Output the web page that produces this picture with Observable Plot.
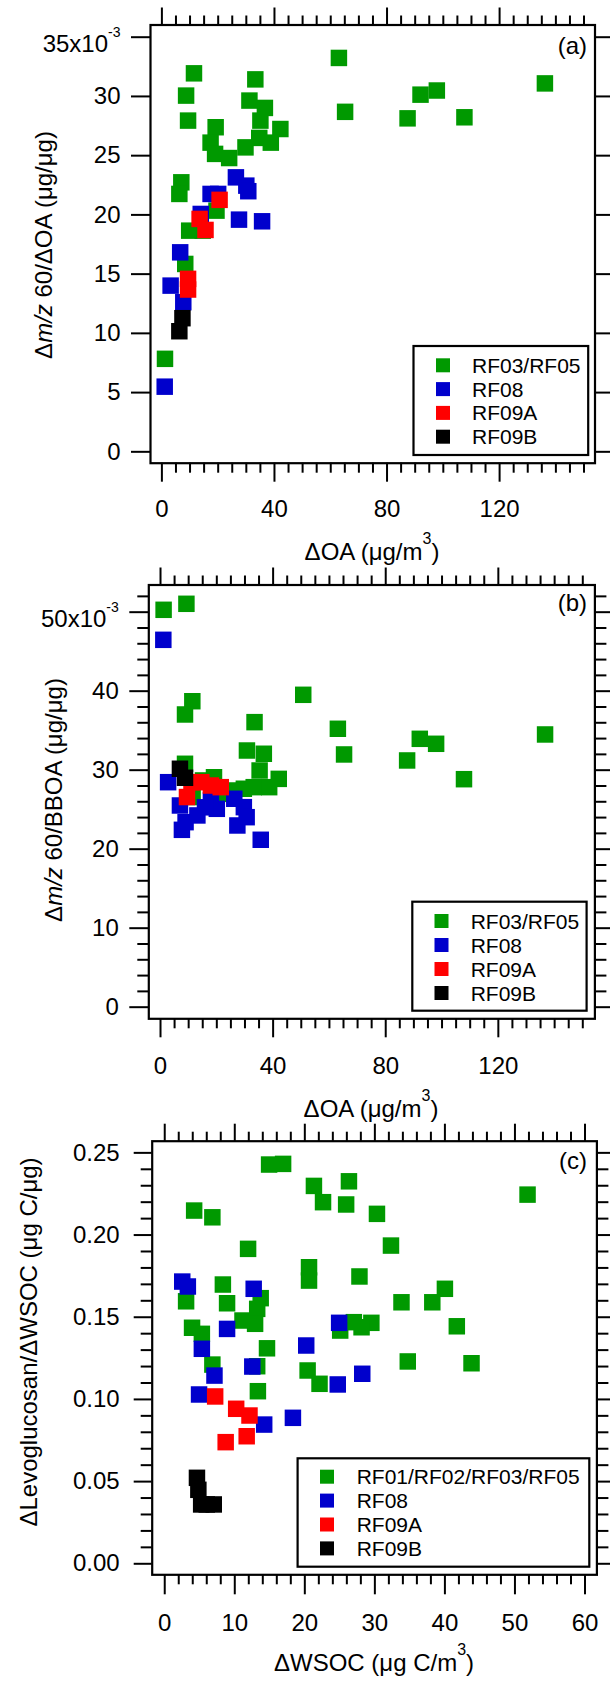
<!DOCTYPE html>
<html>
<head>
<meta charset="utf-8">
<script src="https://cdn.jsdelivr.net/npm/d3@7"></script>
<script src="https://cdn.jsdelivr.net/npm/@observablehq/plot@0.6"></script>
<style>
  body { margin: 0; background: #fff; }
  #page { position: relative; width: 610px; height: 1684px; overflow: hidden; background: #fff; }
</style>
</head>
<body>
<div id="page"></div>
<script>
// ---------------- DATA ----------------
// Panel (a): x = ΔOA (µg/m3), y = Δm/z60/ΔOA (×10^-3 µg/µg)
const aGreenX = [62.9, 11.4, 33.2, 136.1, 8.6, 97.7, 91.9, 31.1, 36.6, 65.1, 87.3, 107.5, 9.3, 35.0, 19.1, 42.1, 17.3, 38.7, 34.6, 29.7, 18.9, 23.9, 6.9, 6.2, 19.4, 9.7, 14.5, 8.3, 1.1];
const aGreenY = [33.25, 31.95, 31.44, 31.1, 30.07, 30.5, 30.15, 29.65, 29.03, 28.7, 28.15, 28.24, 27.96, 27.96, 27.4, 27.25, 26.1, 26.1, 26.5, 25.7, 25.15, 24.8, 22.75, 21.77, 20.36, 18.67, 18.67, 15.86, 7.85];
const aBlueX = [26.3, 30.0, 30.7, 17.3, 20.0, 13.8, 27.4, 35.6, 6.5, 3.1, 7.6, 1.0];
const aBlueY = [23.17, 22.47, 22.0, 21.77, 21.77, 20.08, 19.6, 19.46, 16.84, 14.03, 12.63, 5.5];
const aRedX = [20.5, 13.4, 15.5, 9.3, 9.3];
const aRedY = [21.27, 19.66, 18.73, 14.6, 13.7];
const aBlackX = [7.3, 6.2];
const aBlackY = [11.28, 10.18];

// Panel (b): x = ΔOA (µg/m3), y = Δm/z60/BBOA (×10^-3 µg/µg)
const bGreenX = [1.1, 9.2, 11.3, 8.7, 50.7, 33.4, 63.0, 65.2, 92.1, 97.9, 136.6, 87.6, 107.8, 30.7, 36.7, 35.2, 42.0, 38.6, 33.1, 29.6, 24.8, 19.0, 15.1, 8.7, 11.4, 22.1];
const bGreenY = [50.3, 51.06, 38.73, 37.05, 39.54, 36.08, 35.24, 31.99, 33.97, 33.34, 34.52, 31.23, 28.86, 32.49, 32.08, 29.96, 28.9, 27.85, 27.85, 27.65, 27.43, 29.11, 28.7, 30.81, 26.6, 27.0];
const bBlueX = [1.0, 2.7, 6.9, 7.6, 8.9, 13.1, 17.9, 20.0, 26.2, 29.6, 30.6, 27.3, 35.6, 15.8];
const bBlueY = [46.5, 28.48, 25.53, 22.45, 23.42, 24.27, 26.16, 25.11, 26.38, 25.32, 24.05, 23.0, 21.19, 25.3];
const bRedX = [9.4, 11.0, 14.5, 17.9, 21.4];
const bRedY = [26.6, 28.48, 28.48, 28.06, 27.85];
const bBlackX = [6.9, 8.7];
const bBlackY = [30.18, 29.04];

// Panel (c): x = ΔWSOC (µg C/m3), y = ΔLevoglucosan/ΔWSOC (µg C/µg)
const cGreenX = [14.9, 16.9, 26.3, 21.3, 22.6, 25.9, 51.8, 4.2, 6.8, 30.3, 32.3, 11.9, 20.6, 20.6, 27.8, 8.3, 40.0, 13.7, 33.8, 38.2, 3.05, 8.9, 13.2, 11.1, 12.9, 3.9, 5.3, 27.0, 29.5, 25.05, 28.1, 41.7, 14.6, 6.8, 13.2, 20.4, 34.7, 43.8, 22.1, 13.3];
const cGreenY = [0.2429, 0.2433, 0.2327, 0.2299, 0.2200, 0.2186, 0.2246, 0.2149, 0.2108, 0.2129, 0.1936, 0.1916, 0.1804, 0.1723, 0.1748, 0.1699, 0.1673, 0.1616, 0.1591, 0.1591, 0.1597, 0.1585, 0.1551, 0.1480, 0.1460, 0.1436, 0.1399, 0.1470, 0.1466, 0.1419, 0.1439, 0.1445, 0.1311, 0.1212, 0.1202, 0.1176, 0.1231, 0.1220, 0.1095, 0.1050];
const cBlueX = [2.5, 3.3, 12.7, 8.9, 24.9, 5.3, 20.2, 12.5, 7.1, 28.2, 24.7, 4.9, 14.2, 18.3];
const cBlueY = [0.1717, 0.1687, 0.1673, 0.1429, 0.1466, 0.1308, 0.1328, 0.1200, 0.1145, 0.1156, 0.1091, 0.1030, 0.0847, 0.0888];
const cRedX = [7.2, 10.2, 12.1, 11.7, 8.7];
const cRedY = [0.1018, 0.0943, 0.0902, 0.0776, 0.0740];
const cBlackX = [4.6, 4.8, 5.2, 6.0, 7.0];
const cBlackY = [0.0523, 0.0450, 0.0361, 0.0361, 0.0361];

// Legends / labels
const legendAB = ["RF03/RF05", "RF08", "RF09A", "RF09B"];
const legendC = ["RF01/RF02/RF03/RF05", "RF08", "RF09A", "RF09B"];
const seriesColors = ["#009900", "#0000CC", "#FF0000", "#000000"];

// Ticks
const xTicksAB = [0, 40, 80, 120];
const xMinorAB = d3.range(0, 151, 5).filter(v => v % 40 !== 0);
const yTicksA = [0, 5, 10, 15, 20, 25, 30, 35];
const yTicksB = [0, 10, 20, 30, 40, 50];
const yMinorB = d3.range(0, 53, 2).filter(v => v % 10 !== 0);
const xTicksC = [0, 10, 20, 30, 40, 50, 60];
const xMinorC = d3.range(0, 61, 2).filter(v => v % 10 !== 0);
const yTicksC = [0, 0.05, 0.10, 0.15, 0.20, 0.25];
const yMinorC = d3.range(0, 26).filter(v => v % 5 !== 0).map(v => v / 100);

// ---------------- DRAWING ----------------
const FONT = '"Liberation Sans", Arial, Helvetica, sans-serif';
const ns = "http://www.w3.org/2000/svg";
const pts = (xs, ys) => xs.map((x, i) => ({x, y: ys[i]}));
const page = document.getElementById("page");
const blank = () => "";

function panel(cfg) {
  const marks = [
    Plot.frame({stroke: "#000", strokeWidth: 2.2}),
    Plot.axisX(cfg.xTicks, {anchor: "bottom", tickSize: cfg.xTickLen, tickPadding: cfg.xPad, tickFormat: cfg.xFormat, fontSize: 24, strokeWidth: 2, label: null}),
    Plot.axisX(cfg.xMinor, {anchor: "bottom", tickSize: 10, tickFormat: blank, strokeWidth: 2, label: null}),
    Plot.axisX(cfg.xTicks, {anchor: "top", tickSize: 18, tickFormat: blank, strokeWidth: 2, label: null}),
    Plot.axisX(cfg.xMinor, {anchor: "top", tickSize: 10, tickFormat: blank, strokeWidth: 2, label: null}),
    Plot.axisY(cfg.yTicks, {anchor: "left", tickSize: cfg.yTickLen, tickPadding: cfg.yPad, tickFormat: cfg.yFormat, fontSize: 24, strokeWidth: 2, label: null}),
    Plot.axisY(cfg.yTicks, {anchor: "right", tickSize: 17, tickFormat: blank, strokeWidth: 2, label: null})
  ];
  if (cfg.yMinor.length) {
    marks.push(Plot.axisY(cfg.yMinor, {anchor: "left", tickSize: 11, tickFormat: blank, strokeWidth: 2, label: null}));
    marks.push(Plot.axisY(cfg.yMinor, {anchor: "right", tickSize: 11, tickFormat: blank, strokeWidth: 2, label: null}));
  }
  cfg.series.forEach((s, i) => {
    marks.push(Plot.dot(s, {x: "x", y: "y", symbol: "square", r: 9.3, fill: seriesColors[i], stroke: "none"}));
  });
  const svg = Plot.plot({
    width: 610,
    height: cfg.height,
    marginTop: cfg.mt, marginBottom: cfg.mb, marginLeft: cfg.ml, marginRight: cfg.mr,
    x: {domain: cfg.xDomain},
    y: {domain: cfg.yDomain},
    style: {position: "absolute", left: "0px", top: cfg.top + "px", fontFamily: FONT, fontSize: "24px", color: "#000", background: "transparent", overflow: "visible"},
    marks
  });
  // superscript exponent on the top tick label
  if (cfg.supBase) {
    svg.querySelectorAll("text").forEach(t => {
      if (t.textContent === cfg.supBase) {
        const ts = document.createElementNS(ns, "tspan");
        ts.setAttribute("dy", "-15");
        ts.setAttribute("font-size", "14");
        ts.textContent = "-3";
        t.appendChild(ts);
        const tr = t.getAttribute("transform") || "";
        t.setAttribute("transform", tr + " translate(0,7)");
      }
    });
  }
  page.appendChild(svg);
}

panel({
  top: 0, height: 565, mt: 24.5, mb: 102.3, ml: 150, mr: 15.5,
  xDomain: [-4.05, 153.9], yDomain: [-0.96, 36.03],
  xTicks: xTicksAB, xMinor: xMinorAB, yTicks: yTicksA, yMinor: [],
  xTickLen: 19, xPad: 18, yTickLen: 19, yPad: 11,
  xFormat: d => String(d), yFormat: d => d === 35 ? "35x10" : String(d), supBase: "35x10",
  series: [pts(aGreenX, aGreenY), pts(aBlueX, aBlueY), pts(aRedX, aRedY), pts(aBlackX, aBlackY)]
});

panel({
  top: 565, height: 555, mt: 19.5, mb: 101.7, ml: 148.3, mr: 15.6,
  xDomain: [-4.16, 154.3], yDomain: [-1.47, 53.44],
  xTicks: xTicksAB, xMinor: xMinorAB, yTicks: yTicksB, yMinor: yMinorB,
  xTickLen: 19, xPad: 19.5, yTickLen: 19, yPad: 11,
  xFormat: d => String(d), yFormat: d => d === 50 ? "50x10" : String(d), supBase: "50x10",
  series: [pts(bGreenX, bGreenY), pts(bBlueX, bBlueY), pts(bRedX, bRedY), pts(bBlackX, bBlackY)]
});

panel({
  top: 1120, height: 564, mt: 20.7, mb: 109.7, ml: 151.7, mr: 13.6,
  xDomain: [-1.79, 61.7], yDomain: [-0.0067, 0.2571],
  xTicks: xTicksC, xMinor: xMinorC, yTicks: yTicksC, yMinor: yMinorC,
  xTickLen: 20, xPad: 19, yTickLen: 18, yPad: 14.5,
  xFormat: d => String(d), yFormat: d3.format(".2f"), supBase: null,
  series: [pts(cGreenX, cGreenY), pts(cBlueX, cBlueY), pts(cRedX, cRedY), pts(cBlackX, cBlackY)]
});

// ---------------- OVERLAY: titles, panel labels, legends ----------------
const ov = d3.select(page).append("svg")
  .attr("width", 610).attr("height", 1684)
  .style("position", "absolute").style("left", "0px").style("top", "0px")
  .style("font-family", FONT).style("pointer-events", "none");

function richText(sel, segs) {
  let prevDy = 0;
  segs.forEach(s => {
    const t = sel.append("tspan").text(s.t);
    let dy = 0;
    if (s.sup) { t.attr("font-size", 16); dy = -16; }
    if (dy - prevDy !== 0) t.attr("dy", dy - prevDy);
    prevDy = dy;
    if (s.it) t.attr("font-style", "italic");
  });
}

function xTitle(cx, baseline, segs) {
  const t = ov.append("text").attr("x", cx).attr("y", baseline).attr("text-anchor", "middle").attr("font-size", 24);
  richText(t, segs);
}
function yTitle(bx, cy, segs) {
  const t = ov.append("text").attr("transform", `translate(${bx},${cy}) rotate(-90)`).attr("text-anchor", "middle").attr("font-size", 24);
  richText(t, segs);
}

xTitle(372, 560, [{t: "ΔOA (μg/m"}, {t: "3", sup: true}, {t: ")"}]);
xTitle(371, 1117, [{t: "ΔOA (μg/m"}, {t: "3", sup: true}, {t: ")"}]);
xTitle(374, 1671, [{t: "ΔWSOC (μg C/m"}, {t: "3", sup: true}, {t: ")"}]);

yTitle(51.7, 245, [{t: "Δ"}, {t: "m/z", it: true}, {t: " 60/ΔOA (μg/μg)"}]);
yTitle(61.7, 800, [{t: "Δ"}, {t: "m/z", it: true}, {t: " 60/BBOA (μg/μg)"}]);
yTitle(36.7, 1342, [{t: "ΔLevoglucosan/ΔWSOC (μg C/μg)"}]);

[["(a)", 53.5], ["(b)", 610.5], ["(c)", 1168.5]].forEach(([lab, y]) => {
  ov.append("text").attr("x", 587).attr("y", y).attr("text-anchor", "end").attr("font-size", 24).text(lab);
});

function legend(x0, y0, w, h, firstDy, step, swX, txX, labels) {
  ov.append("rect").attr("x", x0).attr("y", y0).attr("width", w).attr("height", h)
    .attr("fill", "#fff").attr("stroke", "#000").attr("stroke-width", 2.2);
  labels.forEach((lab, i) => {
    const cy = y0 + firstDy + i * step;
    ov.append("rect").attr("x", swX - 7).attr("y", cy - 7).attr("width", 14).attr("height", 14).attr("fill", seriesColors[i]);
    ov.append("text").attr("x", txX).attr("y", cy + 7.5).attr("font-size", 21).text(lab);
  });
}
legend(413.5, 346, 174.7, 109, 19.3, 23.8, 443, 472, legendAB);
legend(412.3, 901.7, 174.3, 109, 19.3, 24, 441.5, 470.7, legendAB);
legend(297.6, 1458.3, 291.7, 108.4, 18.4, 23.9, 327, 356.7, legendC);
</script>
</body>
</html>
